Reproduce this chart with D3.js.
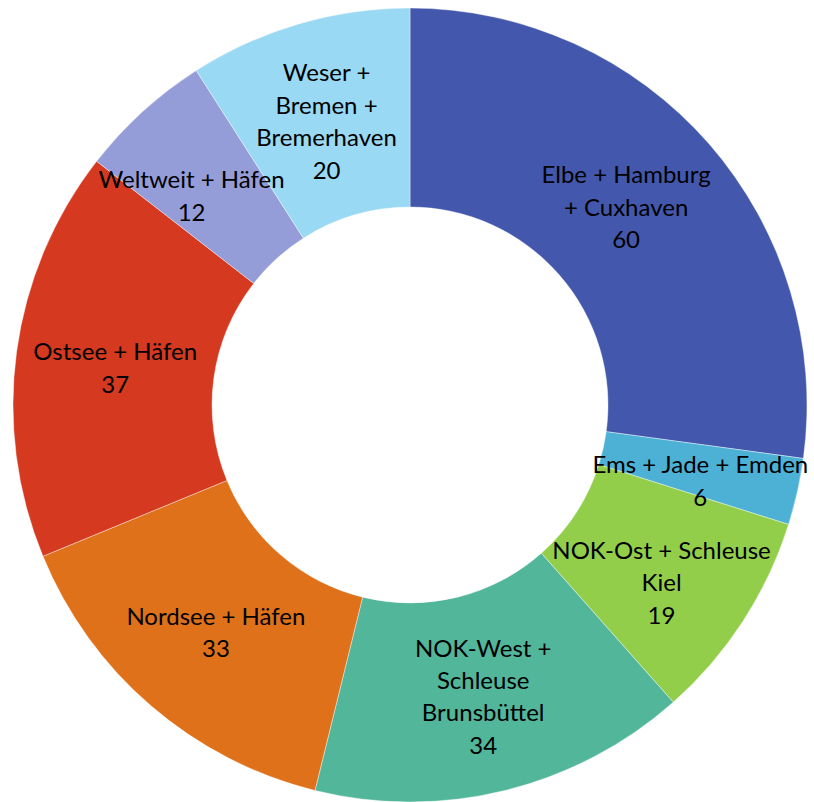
<!DOCTYPE html>
<html>
<head>
<meta charset="utf-8">
<script src="https://cdn.jsdelivr.net/npm/d3@7"></script>
<style>
  html, body { margin: 0; padding: 0; background: #fff; }
  svg { display: block; }
</style>
</head>
<body>
<svg id="chart" width="814" height="802"></svg>
<script>
// Segment names (line breaks as printed inside each segment)
const categories = [
  ["Elbe + Hamburg", "+ Cuxhaven"],
  ["Ems + Jade + Emden"],
  ["NOK-Ost + Schleuse", "Kiel"],
  ["NOK-West +", "Schleuse", "Brunsbüttel"],
  ["Nordsee + Häfen"],
  ["Ostsee + Häfen"],
  ["Weltweit + Häfen"],
  ["Weser +", "Bremen +", "Bremerhaven"]
];
const values = [60, 6, 19, 34, 33, 37, 12, 20];
const colors = ["#4358AD", "#4DB1D6", "#93CE4B", "#52B69B", "#E0711B", "#D5391F", "#959DD8", "#99D9F3"];
// small label nudges (dx, dy) where the label sits off the ring centroid
const labelNudge = [[-8, -2], [0, 11], [2, 16], [2, 3], [0, 2], [0, 3], [-18, 11], [0, 2]];

const svg = d3.select("#chart");
const cx = 410, cy = 405;
const outerR = 397, innerR = 198;

const data = values.map((v, i) => ({ lines: categories[i].concat([String(v)]), value: v, color: colors[i], nudge: labelNudge[i] }));

const pie = d3.pie().value(d => d.value).sort(null);
const arc = d3.arc().innerRadius(innerR).outerRadius(outerR);
const labelArc = d3.arc().innerRadius((innerR + outerR) / 2).outerRadius((innerR + outerR) / 2);

const g = svg.append("g").attr("transform", `translate(${cx},${cy})`);
const arcs = pie(data);

g.selectAll("path.slice")
  .data(arcs)
  .join("path")
  .attr("class", "slice")
  .attr("d", arc)
  .attr("fill", d => d.data.color)
  .attr("stroke", "#ffffff")
  .attr("stroke-width", 0.4);

const lineH = 32.5;
const labels = g.selectAll("text.lbl")
  .data(arcs)
  .join("text")
  .attr("class", "lbl")
  .attr("font-family", "Lato, 'Open Sans', sans-serif")
  .attr("font-size", 24)
  .attr("fill", "#000")
  .attr("text-anchor", "middle")
  .attr("transform", d => {
    const [x, y] = labelArc.centroid(d);
    return `translate(${x + d.data.nudge[0]},${y + d.data.nudge[1]})`;
  });

labels.each(function(d) {
  const n = d.data.lines.length;
  const t = d3.select(this);
  d.data.lines.forEach((ln, k) => {
    t.append("tspan")
      .attr("x", 0)
      .attr("y", (k - (n - 1) / 2) * lineH)
      .attr("dy", "0.35em")
      .text(ln);
  });
});
</script>
</body>
</html>
